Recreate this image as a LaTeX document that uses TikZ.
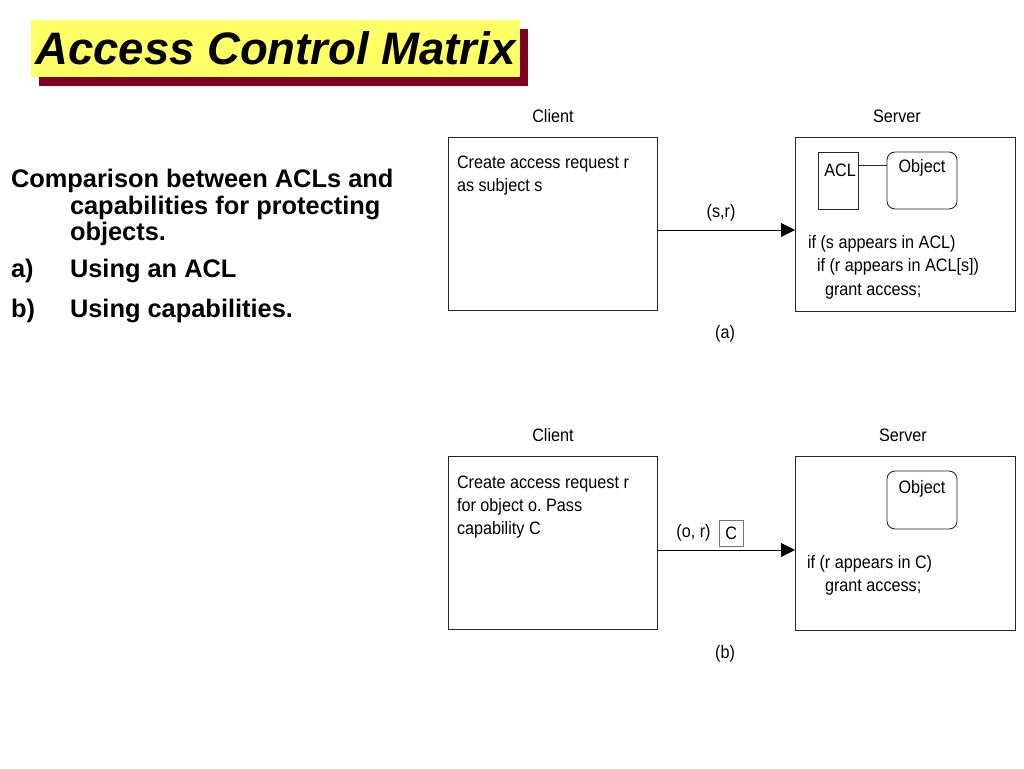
\documentclass[tikz,border=0pt]{standalone}
\usepackage{fontspec}
\setmainfont{Liberation Sans}
\newfontfamily\diagfont[FakeStretch=0.9]{Liberation Sans}
\usetikzlibrary{arrows.meta,shadows}
\definecolor{titleyellow}{RGB}{255,255,102}
\definecolor{titleshadow}{RGB}{128,0,32}
\frenchspacing
\begin{document}
\begin{tikzpicture}[x=1pt,y=-1pt,
  every node/.style={inner sep=0pt,outer sep=0pt},
  diag/.style={font=\diagfont\fontsize{18}{23.5}\selectfont},
  lab/.style={diag,anchor=base},
  txtline/.style={diag,anchor=base west},
  bullet/.style={anchor=base west,font=\bfseries\fontsize{25.4}{28}\selectfont},
  box/.style={draw=black!85,line width=0.9pt},
  arr/.style={line width=0.9pt,-{Triangle[length=14pt,width=14pt]}},
]
\useasboundingbox (0,0) rectangle (1024,768);

% Title
\node[fill=titleyellow, minimum width=489pt, minimum height=57pt,
      general shadow={fill=titleshadow,shadow xshift=8pt,shadow yshift=-9pt},
      font=\bfseries\itshape\fontsize{45.5}{50}\selectfont] (title) at (275.5,48.5) {Access Control Matrix};

% Left text
\node[bullet] (t1) at (11,187) {Comparison between ACLs and};
\node[bullet] (t2) at (70,214) {capabilities for protecting};
\node[bullet] (t3) at (70,240) {objects.};
\node[bullet] (t4a) at (11,277) {a)};
\node[bullet] (t4) at (70,277) {Using an ACL};
\node[bullet] (t5a) at (11,317) {b)};
\node[bullet] (t5) at (70,317) {Using capabilities.};

% ---------- Diagram (a)
\node[box,minimum width=209pt,minimum height=173pt] (cA) at (552.5,223.5) {};
\node[box,minimum width=220pt,minimum height=174pt] (sA) at (905,224) {};
\node[lab] (clA) at (553,122) {Client};
\node[lab] (slA) at (897,122) {Server};
\node[txtline] (ctA1) at (457,168) {Create access request r};
\node[txtline] (ctA2) at (457,191.5) {as subject s};
\node[box,minimum width=40pt,minimum height=57pt] (acl) at (838,180.5) {};
\node[lab] (acll) at (840,176.5) {ACL};
\node[box,rounded corners=8pt,minimum width=70pt,minimum height=57pt] (objA) at (922,180.5) {};
\node[lab] (objAl) at (922,172.5) {Object};
\coordinate (yA) at (0,165);
\draw[box] (acl.east |- yA) -- (objA.west |- yA);
\node[txtline] (sa1) at (808,248) {if (s appears in ACL)};
\node[txtline] (sa2) at (817,271.5) {if (r appears in ACL[s])};
\node[txtline] (sa3) at (825,295) {grant access;};
\coordinate (arA) at (0,230);
\draw[arr] (cA.east |- arA) -- (sA.west |- arA);
\node[lab] (msgA) at (721,217) {(s,r)};
\node[lab] (capA) at (725,338.5) {(a)};

% ---------- Diagram (b)
\node[box,minimum width=209pt,minimum height=173pt] (cB) at (552.5,542.5) {};
\node[box,minimum width=220pt,minimum height=174pt] (sB) at (905,543) {};
\node[lab] (clB) at (553,441) {Client};
\node[lab] (slB) at (903,441) {Server};
\node[txtline] (cb1) at (457,488) {Create access request r};
\node[txtline] (cb2) at (457,511) {for object o. Pass};
\node[txtline] (cb3) at (457,534) {capability C};
\node[box,rounded corners=8pt,minimum width=70pt,minimum height=58pt] (objB) at (922,500) {};
\node[lab] (objBl) at (922,493) {Object};
\node[txtline] (sb1) at (807,568) {if (r appears in C)};
\node[txtline] (sb2) at (825,591) {grant access;};
\coordinate (arB) at (0,550);
\draw[arr] (cB.east |- arB) -- (sB.west |- arB);
\node[lab] (msgB) at (693.5,537) {(o, r)};
\node[diag,draw=black!55,line width=0.9pt,minimum width=24pt,minimum height=26pt] (capC) at (731.3,533.3) {C};
\node[lab] (capB) at (725,658.5) {(b)};
\end{tikzpicture}
\end{document}
